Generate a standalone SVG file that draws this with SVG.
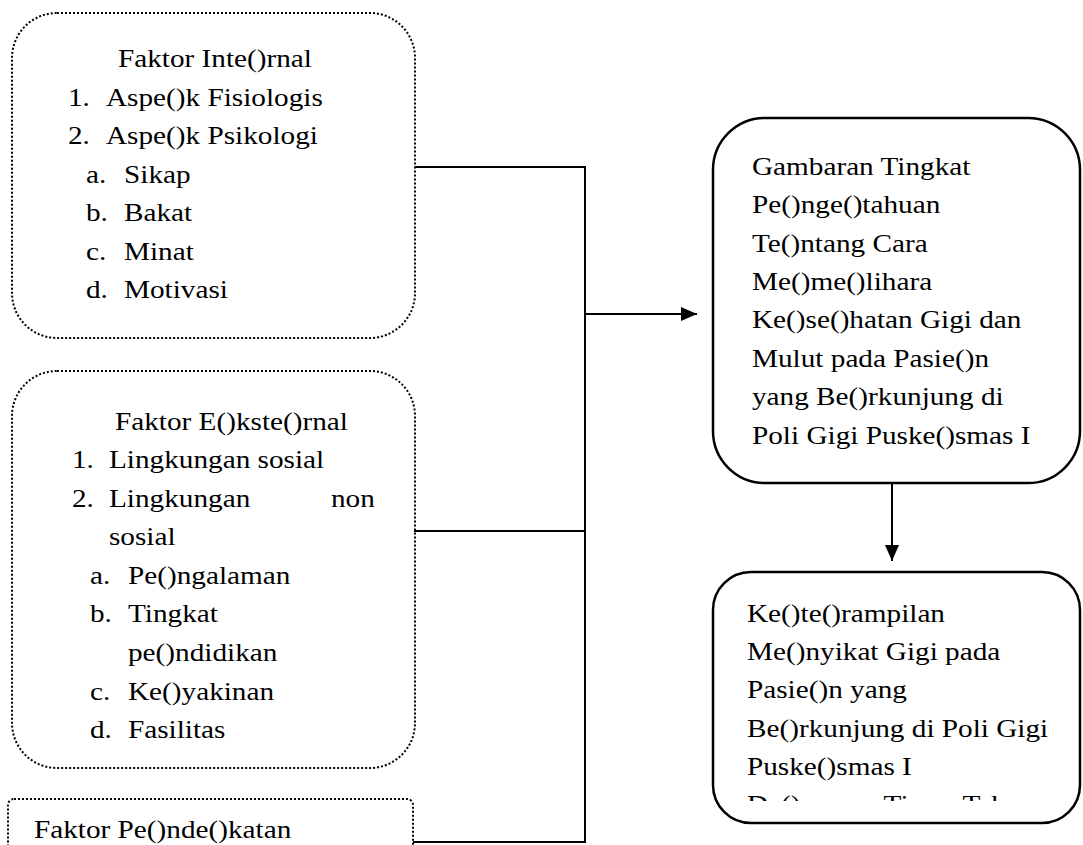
<svg xmlns="http://www.w3.org/2000/svg" width="1083" height="845" viewBox="0 0 1083 845">
<style>
.t{font-family:"Liberation Serif","Times New Roman",serif;font-size:25px;fill:#000}
.dot{fill:none;stroke:#000;stroke-width:2;stroke-dasharray:2 2}
.sol{fill:none;stroke:#000;stroke-width:2.5}
.ln{fill:none;stroke:#000;stroke-width:2}
</style>
<defs>
<marker id="ah" markerUnits="userSpaceOnUse" markerWidth="16" markerHeight="14" refX="16" refY="7" orient="auto">
<path d="M0,0 L16,7 L0,14 z" fill="#000"/>
</marker>
<clipPath id="clipB"><rect x="713" y="572" width="367" height="229"/></clipPath>
</defs>
<rect width="1083" height="845" fill="#fff"/>

<g id="internal">
<rect class="dot" x="12" y="13" width="403" height="325" rx="45" ry="45"/>
<text class="t" transform="translate(118,67) scale(1.17,1)">Faktor Inte()rnal</text>
<text class="t" transform="translate(68,106) scale(1.17,1)">1.</text>
<text class="t" transform="translate(106,106) scale(1.17,1)">Aspe()k Fisiologis</text>
<text class="t" transform="translate(68,144) scale(1.17,1)">2.</text>
<text class="t" transform="translate(106,144) scale(1.17,1)">Aspe()k Psikologi</text>
<text class="t" transform="translate(86,183) scale(1.17,1)">a.</text>
<text class="t" transform="translate(124,183) scale(1.17,1)">Sikap</text>
<text class="t" transform="translate(86,221) scale(1.17,1)">b.</text>
<text class="t" transform="translate(124,221) scale(1.17,1)">Bakat</text>
<text class="t" transform="translate(86,260) scale(1.17,1)">c.</text>
<text class="t" transform="translate(124,260) scale(1.17,1)">Minat</text>
<text class="t" transform="translate(86,298) scale(1.17,1)">d.</text>
<text class="t" transform="translate(124,298) scale(1.17,1)">Motivasi</text>
</g>

<g id="eksternal">
<rect class="dot" x="12" y="371" width="403" height="397" rx="45" ry="45"/>
<text class="t" transform="translate(115,430) scale(1.17,1)">Faktor E()kste()rnal</text>
<text class="t" transform="translate(72,468) scale(1.17,1)">1.</text>
<text class="t" transform="translate(109,468) scale(1.17,1)">Lingkungan sosial</text>
<text class="t" transform="translate(72,507) scale(1.17,1)">2.</text>
<text class="t" transform="translate(109,507) scale(1.17,1)">Lingkungan</text>
<text class="t" transform="translate(331,507) scale(1.17,1)">non</text>
<text class="t" transform="translate(109,545) scale(1.17,1)">sosial</text>
<text class="t" transform="translate(90,584) scale(1.17,1)">a.</text>
<text class="t" transform="translate(128,584) scale(1.17,1)">Pe()ngalaman</text>
<text class="t" transform="translate(90,622) scale(1.17,1)">b.</text>
<text class="t" transform="translate(128,622) scale(1.17,1)">Tingkat</text>
<text class="t" transform="translate(128,661) scale(1.17,1)">pe()ndidikan</text>
<text class="t" transform="translate(90,700) scale(1.17,1)">c.</text>
<text class="t" transform="translate(128,700) scale(1.17,1)">Ke()yakinan</text>
<text class="t" transform="translate(90,738) scale(1.17,1)">d.</text>
<text class="t" transform="translate(128,738) scale(1.17,1)">Fasilitas</text>
</g>

<g id="pendekatan">
<rect class="dot" x="8" y="799" width="405" height="70" rx="6" ry="6"/>
<text class="t" transform="translate(34,838) scale(1.17,1)">Faktor Pe()nde()katan</text>
</g>

<g id="pengetahuan">
<rect class="sol" x="713" y="118" width="367" height="365" rx="52" ry="52"/>
<text class="t" transform="translate(752,175) scale(1.17,1)">Gambaran Tingkat</text>
<text class="t" transform="translate(752,213) scale(1.17,1)">Pe()nge()tahuan</text>
<text class="t" transform="translate(752,252) scale(1.17,1)">Te()ntang Cara</text>
<text class="t" transform="translate(752,290) scale(1.17,1)">Me()me()lihara</text>
<text class="t" transform="translate(752,328) scale(1.17,1)">Ke()se()hatan Gigi dan</text>
<text class="t" transform="translate(752,367) scale(1.17,1)">Mulut pada Pasie()n</text>
<text class="t" transform="translate(752,405) scale(1.17,1)">yang Be()rkunjung di</text>
<text class="t" transform="translate(752,444) scale(1.17,1)">Poli Gigi Puske()smas I</text>
</g>

<g id="keterampilan">
<rect class="sol" x="713" y="572" width="367" height="251" rx="38" ry="38"/>
<text class="t" transform="translate(747,622) scale(1.17,1)">Ke()te()rampilan</text>
<text class="t" transform="translate(747,660) scale(1.17,1)">Me()nyikat Gigi pada</text>
<text class="t" transform="translate(747,698) scale(1.17,1)">Pasie()n yang</text>
<text class="t" transform="translate(747,737) scale(1.17,1)">Be()rkunjung di Poli Gigi</text>
<text class="t" transform="translate(747,775) scale(1.17,1)">Puske()smas I</text>
<g clip-path="url(#clipB)">
<text class="t" transform="translate(747,813) scale(1.17,1)">De()npasar Timur Tahun</text>
</g>
</g>

<g id="connectors">
<path class="ln" d="M415,167 H585 V842 H413"/>
<path class="ln" d="M414,531 H585"/>
<path class="ln" d="M585,314 H697" marker-end="url(#ah)"/>
<path class="ln" d="M892,483 V561" marker-end="url(#ah)"/>
</g>
</svg>
